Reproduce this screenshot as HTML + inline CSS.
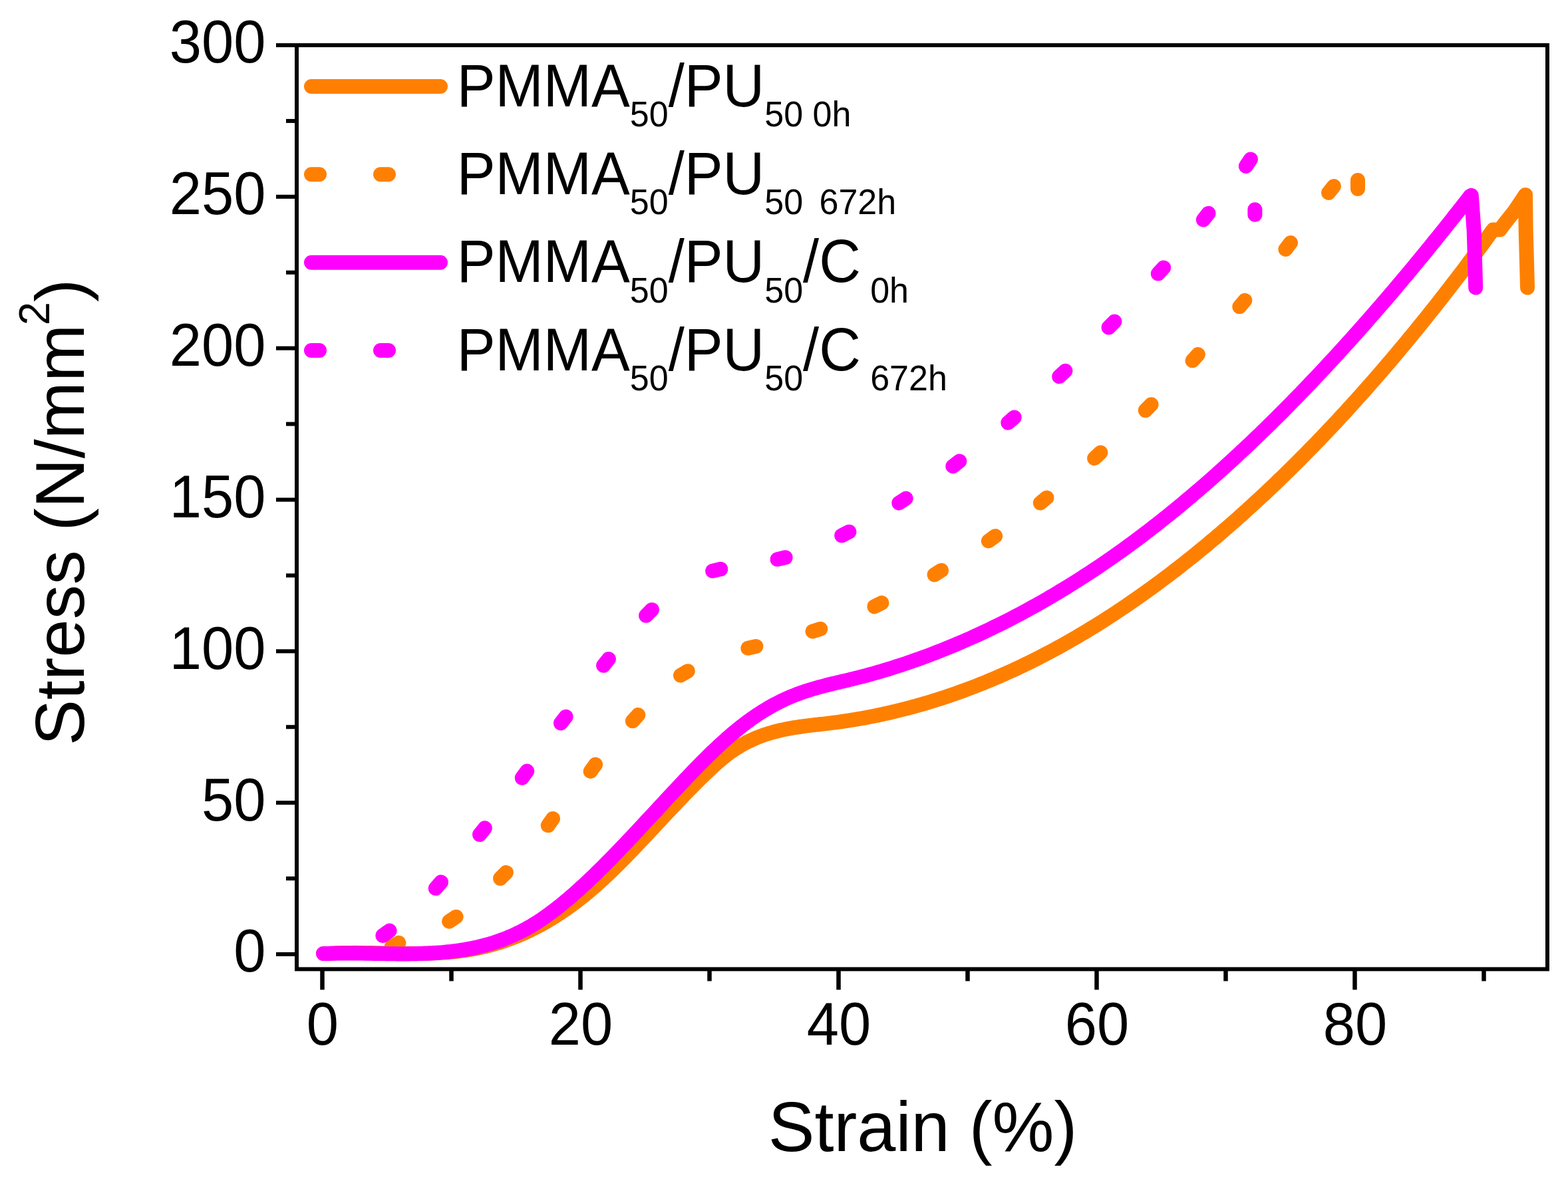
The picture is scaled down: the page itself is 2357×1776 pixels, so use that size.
<!DOCTYPE html><html><head><meta charset="utf-8"><style>html,body{margin:0;padding:0;background:#fff;}svg{display:block;}text{font-family:"Liberation Sans",Arial,sans-serif;fill:#000;}</style></head><body>
<svg width="2357" height="1776" viewBox="0 0 2357 1776">
<rect width="2357" height="1776" fill="#fff"/>
<g fill="none" stroke-width="22" stroke-linecap="round" stroke-linejoin="round">
<path d="M486.0,1434.0 490.0,1434.1 494.0,1433.9 498.0,1433.7 502.0,1433.5 506.0,1433.3 510.0,1433.2 514.0,1433.1 518.0,1433.0 522.0,1432.9 526.0,1432.9 530.0,1432.9 534.0,1432.8 538.0,1432.9 542.0,1432.9 546.0,1432.9 550.0,1432.9 554.0,1433.0 558.0,1433.1 562.0,1433.1 566.0,1433.2 570.0,1433.3 574.0,1433.4 578.0,1433.4 582.0,1433.5 586.0,1433.6 590.0,1433.7 594.0,1433.7 598.0,1433.8 602.0,1433.9 606.0,1433.9 610.0,1434.0 614.0,1434.0 618.0,1434.0 622.0,1434.0 626.0,1434.0 630.0,1433.9 634.0,1433.9 638.0,1433.8 642.0,1433.7 646.0,1433.6 650.0,1433.5 654.0,1433.3 658.0,1433.1 662.0,1432.9 666.0,1432.6 670.0,1432.3 674.0,1432.0 678.0,1431.6 682.0,1431.2 686.0,1430.8 690.0,1430.3 694.0,1429.8 698.0,1429.3 702.0,1428.7 706.0,1428.0 710.0,1427.3 714.0,1426.6 718.0,1425.8 722.0,1425.0 726.0,1424.1 730.0,1423.2 734.0,1422.2 738.0,1421.1 742.0,1420.0 746.0,1418.8 750.0,1417.6 754.0,1416.4 758.0,1415.0 762.0,1413.6 766.0,1412.2 770.0,1410.7 774.0,1409.1 778.0,1407.5 782.0,1405.8 786.0,1404.1 790.0,1402.3 794.0,1400.4 798.0,1398.5 802.0,1396.5 806.0,1394.4 810.0,1392.3 814.0,1390.2 818.0,1387.9 822.0,1385.6 826.0,1383.3 830.0,1380.9 834.0,1378.4 838.0,1375.8 842.0,1373.2 846.0,1370.5 850.0,1367.8 854.0,1365.0 858.0,1362.1 862.0,1359.2 866.0,1356.2 870.0,1353.1 874.0,1349.9 878.0,1346.7 882.0,1343.5 886.0,1340.1 890.0,1336.7 894.0,1333.2 898.0,1329.7 902.0,1326.0 906.0,1322.4 910.0,1318.6 914.0,1314.9 918.0,1311.0 922.0,1307.1 926.0,1303.2 930.0,1299.2 934.0,1295.2 938.0,1291.2 942.0,1287.1 946.0,1282.9 950.0,1278.8 954.0,1274.6 958.0,1270.4 962.0,1266.2 966.0,1261.9 970.0,1257.7 974.0,1253.4 978.0,1249.2 982.0,1244.9 986.0,1240.6 990.0,1236.3 994.0,1232.0 998.0,1227.7 1002.0,1223.5 1006.0,1219.2 1010.0,1215.0 1014.0,1210.7 1018.0,1206.5 1022.0,1202.3 1026.0,1198.2 1030.0,1194.0 1034.0,1189.9 1038.0,1185.8 1042.0,1181.8 1046.0,1177.8 1050.0,1173.8 1054.0,1169.8 1058.0,1165.9 1062.0,1162.1 1066.0,1158.3 1070.0,1154.5 1074.0,1150.8 1078.0,1147.2 1082.0,1143.8 1086.0,1140.4 1090.0,1137.2 1094.0,1134.1 1098.0,1131.2 1102.0,1128.4 1106.0,1125.8 1110.0,1123.3 1114.0,1120.9 1118.0,1118.7 1122.0,1116.6 1126.0,1114.6 1130.0,1112.7 1134.0,1110.9 1138.0,1109.2 1142.0,1107.6 1146.0,1106.1 1150.0,1104.7 1154.0,1103.4 1158.0,1102.2 1162.0,1101.0 1166.0,1100.0 1170.0,1099.0 1174.0,1098.0 1178.0,1097.2 1182.0,1096.3 1186.0,1095.6 1190.0,1094.9 1194.0,1094.2 1198.0,1093.6 1202.0,1093.0 1206.0,1092.4 1210.0,1091.9 1214.0,1091.4 1218.0,1090.9 1222.0,1090.4 1226.0,1089.9 1230.0,1089.5 1234.0,1089.0 1238.0,1088.6 1242.0,1088.1 1246.0,1087.6 1250.0,1087.1 1254.0,1086.6 1258.0,1086.1 1262.0,1085.6 1266.0,1085.0 1270.0,1084.4 1274.0,1083.8 1278.0,1083.2 1282.0,1082.5 1286.0,1081.9 1290.0,1081.2 1294.0,1080.5 1298.0,1079.8 1302.0,1079.1 1306.0,1078.3 1310.0,1077.5 1314.0,1076.7 1318.0,1075.9 1322.0,1075.1 1326.0,1074.2 1330.0,1073.3 1334.0,1072.5 1338.0,1071.5 1342.0,1070.6 1346.0,1069.7 1350.0,1068.7 1354.0,1067.7 1358.0,1066.7 1362.0,1065.7 1366.0,1064.6 1370.0,1063.5 1374.0,1062.5 1378.0,1061.3 1382.0,1060.2 1386.0,1059.1 1390.0,1057.9 1394.0,1056.7 1398.0,1055.5 1402.0,1054.3 1406.0,1053.0 1410.0,1051.8 1414.0,1050.5 1418.0,1049.2 1422.0,1047.9 1426.0,1046.5 1430.0,1045.1 1434.0,1043.8 1438.0,1042.4 1442.0,1040.9 1446.0,1039.5 1450.0,1038.0 1454.0,1036.5 1458.0,1035.0 1462.0,1033.5 1466.0,1032.0 1470.0,1030.4 1474.0,1028.8 1478.0,1027.2 1482.0,1025.6 1486.0,1023.9 1490.0,1022.3 1494.0,1020.6 1498.0,1018.9 1502.0,1017.1 1506.0,1015.4 1510.0,1013.6 1514.0,1011.8 1518.0,1010.0 1522.0,1008.2 1526.0,1006.4 1530.0,1004.5 1534.0,1002.6 1538.0,1000.7 1542.0,998.8 1546.0,996.8 1550.0,994.8 1554.0,992.8 1558.0,990.8 1562.0,988.8 1566.0,986.7 1570.0,984.7 1574.0,982.6 1578.0,980.5 1582.0,978.3 1586.0,976.2 1590.0,974.0 1594.0,971.8 1598.0,969.6 1602.0,967.3 1606.0,965.1 1610.0,962.8 1614.0,960.5 1618.0,958.2 1622.0,955.8 1626.0,953.4 1630.0,951.1 1634.0,948.7 1638.0,946.2 1642.0,943.8 1646.0,941.3 1650.0,938.8 1654.0,936.3 1658.0,933.8 1662.0,931.2 1666.0,928.7 1670.0,926.1 1674.0,923.5 1678.0,920.9 1682.0,918.2 1686.0,915.5 1690.0,912.8 1694.0,910.1 1698.0,907.4 1702.0,904.6 1706.0,901.9 1710.0,899.1 1714.0,896.3 1718.0,893.4 1722.0,890.6 1726.0,887.7 1730.0,884.8 1734.0,881.9 1738.0,879.0 1742.0,876.0 1746.0,873.0 1750.0,870.0 1754.0,867.0 1758.0,864.0 1762.0,860.9 1766.0,857.9 1770.0,854.8 1774.0,851.7 1778.0,848.5 1782.0,845.4 1786.0,842.2 1790.0,839.0 1794.0,835.8 1798.0,832.6 1802.0,829.3 1806.0,826.0 1810.0,822.7 1814.0,819.4 1818.0,816.1 1822.0,812.7 1826.0,809.4 1830.0,806.0 1834.0,802.6 1838.0,799.1 1842.0,795.7 1846.0,792.2 1850.0,788.7 1854.0,785.2 1858.0,781.7 1862.0,778.1 1866.0,774.6 1870.0,771.0 1874.0,767.4 1878.0,763.7 1882.0,760.1 1886.0,756.4 1890.0,752.7 1894.0,749.0 1898.0,745.3 1902.0,741.6 1906.0,737.8 1910.0,734.0 1914.0,730.2 1918.0,726.4 1922.0,722.5 1926.0,718.7 1930.0,714.8 1934.0,710.9 1938.0,707.0 1942.0,703.0 1946.0,699.0 1950.0,695.1 1954.0,691.1 1958.0,687.0 1962.0,683.0 1966.0,678.9 1970.0,674.8 1974.0,670.7 1978.0,666.6 1982.0,662.5 1986.0,658.3 1990.0,654.1 1994.0,649.9 1998.0,645.7 2002.0,641.4 2006.0,637.2 2010.0,632.9 2014.0,628.6 2018.0,624.2 2022.0,619.9 2026.0,615.5 2030.0,611.1 2034.0,606.7 2038.0,602.3 2042.0,597.8 2046.0,593.4 2050.0,588.9 2054.0,584.4 2058.0,579.8 2062.0,575.3 2066.0,570.7 2070.0,566.1 2074.0,561.5 2078.0,556.8 2082.0,552.2 2086.0,547.5 2090.0,542.8 2094.0,538.1 2098.0,533.4 2102.0,528.6 2106.0,523.8 2110.0,519.0 2114.0,514.2 2118.0,509.3 2122.0,504.5 2126.0,499.6 2130.0,494.7 2134.0,489.8 2138.0,484.8 2142.0,479.8 2146.0,474.9 2150.0,469.8 2154.0,464.8 2158.0,459.8 2162.0,454.7 2166.0,449.6 2170.0,444.5 2174.0,439.3 2178.0,434.2 2182.0,429.0 2186.0,423.8 2190.0,418.6 2194.0,413.3 2198.0,408.1 2202.0,402.8 2206.0,397.5 2210.0,392.2 2214.0,386.8 2218.0,381.4 2222.0,376.0 2226.0,370.6 2230.0,365.2 2234.0,359.7 2238.0,354.3 2242.0,348.8 2244.4,345.6 L2254.5,345.6 L2262.6,334.8 2276.4,317.7 2293.0,293.0 L2293.7,348.0 2295.0,394.8 2296.0,432.6" stroke="#FF8000"/>
<g stroke-linecap="round">
<line x1="588.6" y1="1424.1" x2="599.4" y2="1417.9" stroke="#FF8000"/>
<line x1="675.2" y1="1385.7" x2="685.6" y2="1378.7" stroke="#FF8000"/>
<line x1="752.1" y1="1320.9" x2="760.9" y2="1312.1" stroke="#FF8000"/>
<line x1="823.8" y1="1241.3" x2="831.0" y2="1231.1" stroke="#FF8000"/>
<line x1="887.7" y1="1159.9" x2="895.1" y2="1149.7" stroke="#FF8000"/>
<line x1="950.9" y1="1084.3" x2="959.3" y2="1075.1" stroke="#FF8000"/>
<line x1="1023.0" y1="1015.6" x2="1033.8" y2="1009.2" stroke="#FF8000"/>
<line x1="1124.3" y1="974.8" x2="1136.5" y2="972.0" stroke="#FF8000"/>
<line x1="1221.5" y1="949.5" x2="1233.3" y2="945.7" stroke="#FF8000"/>
<line x1="1314.3" y1="912.2" x2="1325.5" y2="906.6" stroke="#FF8000"/>
<line x1="1404.5" y1="864.3" x2="1415.1" y2="857.7" stroke="#FF8000"/>
<line x1="1485.9" y1="813.6" x2="1496.1" y2="806.2" stroke="#FF8000"/>
<line x1="1563.8" y1="756.4" x2="1573.4" y2="748.4" stroke="#FF8000"/>
<line x1="1645.1" y1="689.2" x2="1654.3" y2="680.6" stroke="#FF8000"/>
<line x1="1721.8" y1="617.1" x2="1730.6" y2="608.3" stroke="#FF8000"/>
<line x1="1792.5" y1="542.3" x2="1800.9" y2="533.1" stroke="#FF8000"/>
<line x1="1863.3" y1="461.3" x2="1871.3" y2="451.7" stroke="#FF8000"/>
<line x1="1932.4" y1="374.9" x2="1940.0" y2="365.1" stroke="#FF8000"/>
<line x1="1997.1" y1="289.9" x2="2004.9" y2="280.1" stroke="#FF8000"/>
<line x1="2041.0" y1="284.0" x2="2041.0" y2="271.0" stroke="#FF8000"/>
</g>
<g>
<line x1="575.4" y1="1407.0" x2="585.6" y2="1399.6" stroke="#FF00FF"/>
<line x1="654.8" y1="1335.9" x2="663.0" y2="1326.5" stroke="#FF00FF"/>
<line x1="721.0" y1="1255.1" x2="728.8" y2="1245.3" stroke="#FF00FF"/>
<line x1="784.8" y1="1169.8" x2="792.2" y2="1159.6" stroke="#FF00FF"/>
<line x1="843.0" y1="1087.6" x2="850.6" y2="1077.8" stroke="#FF00FF"/>
<line x1="907.1" y1="1000.8" x2="914.9" y2="991.0" stroke="#FF00FF"/>
<line x1="971.1" y1="925.7" x2="979.9" y2="916.9" stroke="#FF00FF"/>
<line x1="1071.1" y1="858.6" x2="1083.3" y2="855.8" stroke="#FF00FF"/>
<line x1="1168.5" y1="841.1" x2="1180.7" y2="838.3" stroke="#FF00FF"/>
<line x1="1265.2" y1="805.3" x2="1276.4" y2="799.7" stroke="#FF00FF"/>
<line x1="1351.3" y1="756.4" x2="1361.7" y2="749.6" stroke="#FF00FF"/>
<line x1="1432.3" y1="701.2" x2="1442.3" y2="693.6" stroke="#FF00FF"/>
<line x1="1515.3" y1="635.8" x2="1524.7" y2="627.6" stroke="#FF00FF"/>
<line x1="1592.2" y1="566.3" x2="1601.4" y2="557.7" stroke="#FF00FF"/>
<line x1="1666.6" y1="492.4" x2="1675.4" y2="483.6" stroke="#FF00FF"/>
<line x1="1740.8" y1="411.6" x2="1749.2" y2="402.4" stroke="#FF00FF"/>
<line x1="1808.9" y1="330.6" x2="1816.5" y2="320.8" stroke="#FF00FF"/>
<line x1="1872.9" y1="249.9" x2="1879.9" y2="239.5" stroke="#FF00FF"/>
<line x1="1886.4" y1="322.8" x2="1886.4" y2="315.2" stroke="#FF00FF"/>
</g>
<path d="M486.0,1434.0 490.0,1434.1 494.0,1434.0 498.0,1433.8 502.0,1433.7 506.0,1433.6 510.0,1433.6 514.0,1433.5 518.0,1433.5 522.0,1433.5 526.0,1433.5 530.0,1433.5 534.0,1433.5 538.0,1433.5 542.0,1433.6 546.0,1433.6 550.0,1433.7 554.0,1433.7 558.0,1433.8 562.0,1433.9 566.0,1433.9 570.0,1434.0 574.0,1434.1 578.0,1434.1 582.0,1434.2 586.0,1434.2 590.0,1434.3 594.0,1434.3 598.0,1434.4 602.0,1434.4 606.0,1434.4 610.0,1434.4 614.0,1434.4 618.0,1434.3 622.0,1434.3 626.0,1434.2 630.0,1434.1 634.0,1434.0 638.0,1433.8 642.0,1433.7 646.0,1433.5 650.0,1433.3 654.0,1433.0 658.0,1432.7 662.0,1432.4 666.0,1432.1 670.0,1431.7 674.0,1431.3 678.0,1430.9 682.0,1430.4 686.0,1429.9 690.0,1429.3 694.0,1428.7 698.0,1428.1 702.0,1427.4 706.0,1426.7 710.0,1425.9 714.0,1425.0 718.0,1424.2 722.0,1423.2 726.0,1422.2 730.0,1421.1 734.0,1420.0 738.0,1418.9 742.0,1417.6 746.0,1416.3 750.0,1414.9 754.0,1413.5 758.0,1412.0 762.0,1410.4 766.0,1408.7 770.0,1407.0 774.0,1405.2 778.0,1403.3 782.0,1401.4 786.0,1399.3 790.0,1397.2 794.0,1395.0 798.0,1392.7 802.0,1390.3 806.0,1387.8 810.0,1385.2 814.0,1382.6 818.0,1379.8 822.0,1377.0 826.0,1374.1 830.0,1371.1 834.0,1368.1 838.0,1365.0 842.0,1361.8 846.0,1358.6 850.0,1355.2 854.0,1351.9 858.0,1348.5 862.0,1345.0 866.0,1341.4 870.0,1337.9 874.0,1334.2 878.0,1330.5 882.0,1326.8 886.0,1323.0 890.0,1319.2 894.0,1315.4 898.0,1311.5 902.0,1307.5 906.0,1303.6 910.0,1299.6 914.0,1295.5 918.0,1291.5 922.0,1287.4 926.0,1283.3 930.0,1279.1 934.0,1274.9 938.0,1270.8 942.0,1266.5 946.0,1262.3 950.0,1258.1 954.0,1253.8 958.0,1249.5 962.0,1245.2 966.0,1240.9 970.0,1236.6 974.0,1232.3 978.0,1228.0 982.0,1223.7 986.0,1219.4 990.0,1215.0 994.0,1210.7 998.0,1206.4 1002.0,1202.1 1006.0,1197.8 1010.0,1193.5 1014.0,1189.2 1018.0,1184.9 1022.0,1180.7 1026.0,1176.4 1030.0,1172.2 1034.0,1168.0 1038.0,1163.8 1042.0,1159.6 1046.0,1155.5 1050.0,1151.4 1054.0,1147.4 1058.0,1143.3 1062.0,1139.4 1066.0,1135.4 1070.0,1131.5 1074.0,1127.7 1078.0,1123.9 1082.0,1120.2 1086.0,1116.5 1090.0,1112.9 1094.0,1109.3 1098.0,1105.9 1102.0,1102.5 1106.0,1099.1 1110.0,1095.9 1114.0,1092.7 1118.0,1089.6 1122.0,1086.5 1126.0,1083.6 1130.0,1080.7 1134.0,1077.9 1138.0,1075.2 1142.0,1072.6 1146.0,1070.0 1150.0,1067.6 1154.0,1065.2 1158.0,1062.9 1162.0,1060.6 1166.0,1058.5 1170.0,1056.4 1174.0,1054.4 1178.0,1052.5 1182.0,1050.6 1186.0,1048.9 1190.0,1047.2 1194.0,1045.6 1198.0,1044.0 1202.0,1042.6 1206.0,1041.1 1210.0,1039.8 1214.0,1038.5 1218.0,1037.2 1222.0,1036.0 1226.0,1034.9 1230.0,1033.7 1234.0,1032.6 1238.0,1031.6 1242.0,1030.5 1246.0,1029.5 1250.0,1028.5 1254.0,1027.6 1258.0,1026.6 1262.0,1025.7 1266.0,1024.7 1270.0,1023.8 1274.0,1022.8 1278.0,1021.8 1282.0,1020.9 1286.0,1019.9 1290.0,1018.9 1294.0,1017.9 1298.0,1016.8 1302.0,1015.8 1306.0,1014.7 1310.0,1013.6 1314.0,1012.5 1318.0,1011.3 1322.0,1010.2 1326.0,1009.0 1330.0,1007.8 1334.0,1006.6 1338.0,1005.4 1342.0,1004.1 1346.0,1002.8 1350.0,1001.5 1354.0,1000.2 1358.0,998.9 1362.0,997.6 1366.0,996.2 1370.0,994.8 1374.0,993.4 1378.0,992.0 1382.0,990.6 1386.0,989.1 1390.0,987.7 1394.0,986.2 1398.0,984.7 1402.0,983.1 1406.0,981.6 1410.0,980.0 1414.0,978.5 1418.0,976.9 1422.0,975.3 1426.0,973.6 1430.0,972.0 1434.0,970.3 1438.0,968.6 1442.0,967.0 1446.0,965.2 1450.0,963.5 1454.0,961.7 1458.0,960.0 1462.0,958.2 1466.0,956.4 1470.0,954.6 1474.0,952.7 1478.0,950.9 1482.0,949.0 1486.0,947.1 1490.0,945.2 1494.0,943.2 1498.0,941.3 1502.0,939.3 1506.0,937.3 1510.0,935.3 1514.0,933.3 1518.0,931.3 1522.0,929.2 1526.0,927.1 1530.0,925.0 1534.0,922.9 1538.0,920.8 1542.0,918.6 1546.0,916.4 1550.0,914.2 1554.0,912.0 1558.0,909.8 1562.0,907.5 1566.0,905.3 1570.0,903.0 1574.0,900.7 1578.0,898.3 1582.0,896.0 1586.0,893.6 1590.0,891.2 1594.0,888.8 1598.0,886.4 1602.0,884.0 1606.0,881.5 1610.0,879.0 1614.0,876.5 1618.0,874.0 1622.0,871.5 1626.0,868.9 1630.0,866.3 1634.0,863.7 1638.0,861.1 1642.0,858.5 1646.0,855.8 1650.0,853.2 1654.0,850.5 1658.0,847.7 1662.0,845.0 1666.0,842.2 1670.0,839.5 1674.0,836.7 1678.0,833.8 1682.0,831.0 1686.0,828.2 1690.0,825.3 1694.0,822.4 1698.0,819.5 1702.0,816.5 1706.0,813.6 1710.0,810.6 1714.0,807.6 1718.0,804.6 1722.0,801.5 1726.0,798.5 1730.0,795.4 1734.0,792.3 1738.0,789.2 1742.0,786.0 1746.0,782.9 1750.0,779.7 1754.0,776.5 1758.0,773.3 1762.0,770.0 1766.0,766.8 1770.0,763.5 1774.0,760.2 1778.0,756.9 1782.0,753.6 1786.0,750.2 1790.0,746.8 1794.0,743.4 1798.0,740.0 1802.0,736.6 1806.0,733.2 1810.0,729.7 1814.0,726.2 1818.0,722.7 1822.0,719.2 1826.0,715.6 1830.0,712.1 1834.0,708.5 1838.0,704.9 1842.0,701.3 1846.0,697.6 1850.0,694.0 1854.0,690.3 1858.0,686.6 1862.0,682.9 1866.0,679.2 1870.0,675.4 1874.0,671.7 1878.0,667.9 1882.0,664.1 1886.0,660.3 1890.0,656.4 1894.0,652.6 1898.0,648.7 1902.0,644.8 1906.0,640.9 1910.0,637.0 1914.0,633.0 1918.0,629.1 1922.0,625.1 1926.0,621.1 1930.0,617.1 1934.0,613.0 1938.0,609.0 1942.0,604.9 1946.0,600.8 1950.0,596.7 1954.0,592.6 1958.0,588.5 1962.0,584.3 1966.0,580.1 1970.0,575.9 1974.0,571.7 1978.0,567.5 1982.0,563.3 1986.0,559.0 1990.0,554.7 1994.0,550.4 1998.0,546.1 2002.0,541.8 2006.0,537.5 2010.0,533.1 2014.0,528.7 2018.0,524.3 2022.0,519.9 2026.0,515.5 2030.0,511.1 2034.0,506.6 2038.0,502.1 2042.0,497.6 2046.0,493.1 2050.0,488.6 2054.0,484.1 2058.0,479.5 2062.0,474.9 2066.0,470.4 2070.0,465.7 2074.0,461.1 2078.0,456.5 2082.0,451.8 2086.0,447.2 2090.0,442.5 2094.0,437.8 2098.0,433.1 2102.0,428.3 2106.0,423.6 2110.0,418.8 2114.0,414.1 2118.0,409.3 2122.0,404.5 2126.0,399.6 2130.0,394.8 2134.0,389.9 2138.0,385.1 2142.0,380.2 2146.0,375.3 2150.0,370.4 2154.0,365.4 2158.0,360.5 2162.0,355.5 2166.0,350.5 2170.0,345.6 2174.0,340.5 2178.0,335.5 2182.0,330.5 2186.0,325.4 2190.0,320.4 2194.0,315.3 2198.0,310.2 2202.0,305.1 2206.0,300.0 2210.0,294.8 2211.8,293.9 L2215.7,348.0 2217.1,394.8 2218.2,432.6" stroke="#FF00FF"/>
</g>
<g stroke="#000" fill="none" stroke-linecap="butt">
<rect x="446.0" y="68.0" width="1880.0" height="1389.4" stroke-width="6"/>
<line x1="415.0" y1="1435.00" x2="446.0" y2="1435.00" stroke-width="6"/>
<line x1="430.0" y1="1321.08" x2="446.0" y2="1321.08" stroke-width="6"/>
<line x1="415.0" y1="1207.16" x2="446.0" y2="1207.16" stroke-width="6"/>
<line x1="430.0" y1="1093.25" x2="446.0" y2="1093.25" stroke-width="6"/>
<line x1="415.0" y1="979.33" x2="446.0" y2="979.33" stroke-width="6"/>
<line x1="430.0" y1="865.41" x2="446.0" y2="865.41" stroke-width="6"/>
<line x1="415.0" y1="751.50" x2="446.0" y2="751.50" stroke-width="6"/>
<line x1="430.0" y1="637.58" x2="446.0" y2="637.58" stroke-width="6"/>
<line x1="415.0" y1="523.66" x2="446.0" y2="523.66" stroke-width="6"/>
<line x1="430.0" y1="409.74" x2="446.0" y2="409.74" stroke-width="6"/>
<line x1="415.0" y1="295.83" x2="446.0" y2="295.83" stroke-width="6"/>
<line x1="430.0" y1="181.91" x2="446.0" y2="181.91" stroke-width="6"/>
<line x1="415.0" y1="67.99" x2="446.0" y2="67.99" stroke-width="6"/>
<line x1="484.50" y1="1457.4" x2="484.50" y2="1488.4" stroke-width="6.5"/>
<line x1="678.50" y1="1457.4" x2="678.50" y2="1475.4" stroke-width="6.5"/>
<line x1="872.50" y1="1457.4" x2="872.50" y2="1488.4" stroke-width="6.5"/>
<line x1="1066.50" y1="1457.4" x2="1066.50" y2="1475.4" stroke-width="6.5"/>
<line x1="1260.50" y1="1457.4" x2="1260.50" y2="1488.4" stroke-width="6.5"/>
<line x1="1454.50" y1="1457.4" x2="1454.50" y2="1475.4" stroke-width="6.5"/>
<line x1="1648.50" y1="1457.4" x2="1648.50" y2="1488.4" stroke-width="6.5"/>
<line x1="1842.50" y1="1457.4" x2="1842.50" y2="1475.4" stroke-width="6.5"/>
<line x1="2036.50" y1="1457.4" x2="2036.50" y2="1488.4" stroke-width="6.5"/>
<line x1="2230.50" y1="1457.4" x2="2230.50" y2="1475.4" stroke-width="6.5"/>
</g>
<text x="399.4" y="1461.4" font-size="86.7" text-anchor="end" transform="matrix(1 0 0 1.040 0 -58.46)">0</text>
<text x="399.4" y="1233.6" font-size="86.7" text-anchor="end" transform="matrix(1 0 0 1.040 0 -49.34)">50</text>
<text x="399.4" y="1005.7" font-size="86.7" text-anchor="end" transform="matrix(1 0 0 1.040 0 -40.23)">100</text>
<text x="399.4" y="777.9" font-size="86.7" text-anchor="end" transform="matrix(1 0 0 1.040 0 -31.12)">150</text>
<text x="399.4" y="550.1" font-size="86.7" text-anchor="end" transform="matrix(1 0 0 1.040 0 -22.00)">200</text>
<text x="399.4" y="322.2" font-size="86.7" text-anchor="end" transform="matrix(1 0 0 1.040 0 -12.89)">250</text>
<text x="399.4" y="94.4" font-size="86.7" text-anchor="end" transform="matrix(1 0 0 1.040 0 -3.78)">300</text>
<text x="484.9" y="1570.7" font-size="86.7" text-anchor="middle" transform="matrix(1 0 0 1.040 0 -62.83)">0</text>
<text x="872.9" y="1570.7" font-size="86.7" text-anchor="middle" transform="matrix(1 0 0 1.040 0 -62.83)">20</text>
<text x="1260.9" y="1570.7" font-size="86.7" text-anchor="middle" transform="matrix(1 0 0 1.040 0 -62.83)">40</text>
<text x="1648.9" y="1570.7" font-size="86.7" text-anchor="middle" transform="matrix(1 0 0 1.040 0 -62.83)">60</text>
<text x="2036.9" y="1570.7" font-size="86.7" text-anchor="middle" transform="matrix(1 0 0 1.040 0 -62.83)">80</text>
<text x="1387.0" y="1730.8" font-size="104.5" text-anchor="middle" transform="matrix(1 0 0 1.010 0 -17.31)">Strain (%)</text>
<text transform="translate(126,1121.3) rotate(-90) scale(1,1.01)" x="0" y="0" font-size="103.7">Stress (N/mm<tspan font-size="63.5" dy="-51.2" dx="-1.5">2</tspan><tspan dy="51.2">)</tspan></text>
<line x1="468" y1="130.0" x2="662" y2="130.0" stroke="#FF8000" stroke-width="22" stroke-linecap="round"/>
<text x="686.8" y="159.8" font-size="86.7" transform="matrix(1 0 0 1.040 0 -6.39)" xml:space="preserve"><tspan>PMMA</tspan><tspan font-size="52" dy="29.2">50</tspan><tspan dy="-29.2">/PU</tspan><tspan font-size="52" dy="29.2">50 0h</tspan></text>
<g stroke="#FF8000" stroke-width="22" stroke-linecap="round">
<line x1="468" y1="262.3" x2="480" y2="262.3"/>
<line x1="572" y1="262.3" x2="584" y2="262.3"/>
</g>
<text x="686.8" y="292.1" font-size="86.7" transform="matrix(1 0 0 1.040 0 -11.68)" xml:space="preserve"><tspan>PMMA</tspan><tspan font-size="52" dy="29.2">50</tspan><tspan dy="-29.2">/PU</tspan><tspan font-size="52" dy="29.2">50</tspan><tspan font-size="52" dx="10"> 672h</tspan></text>
<line x1="468" y1="394.7" x2="662" y2="394.7" stroke="#FF00FF" stroke-width="22" stroke-linecap="round"/>
<text x="686.8" y="424.4" font-size="86.7" transform="matrix(1 0 0 1.040 0 -16.98)" xml:space="preserve"><tspan>PMMA</tspan><tspan font-size="52" dy="29.2">50</tspan><tspan dy="-29.2">/PU</tspan><tspan font-size="52" dy="29.2">50</tspan><tspan dy="-29.2">/C</tspan><tspan font-size="52" dy="29.2"> 0h</tspan></text>
<g stroke="#FF00FF" stroke-width="22" stroke-linecap="round">
<line x1="468" y1="527.0" x2="480" y2="527.0"/>
<line x1="572" y1="527.0" x2="584" y2="527.0"/>
</g>
<text x="686.8" y="556.8" font-size="86.7" transform="matrix(1 0 0 1.040 0 -22.27)" xml:space="preserve"><tspan>PMMA</tspan><tspan font-size="52" dy="29.2">50</tspan><tspan dy="-29.2">/PU</tspan><tspan font-size="52" dy="29.2">50</tspan><tspan dy="-29.2">/C</tspan><tspan font-size="52" dy="29.2"> 672h</tspan></text>
</svg></body></html>
